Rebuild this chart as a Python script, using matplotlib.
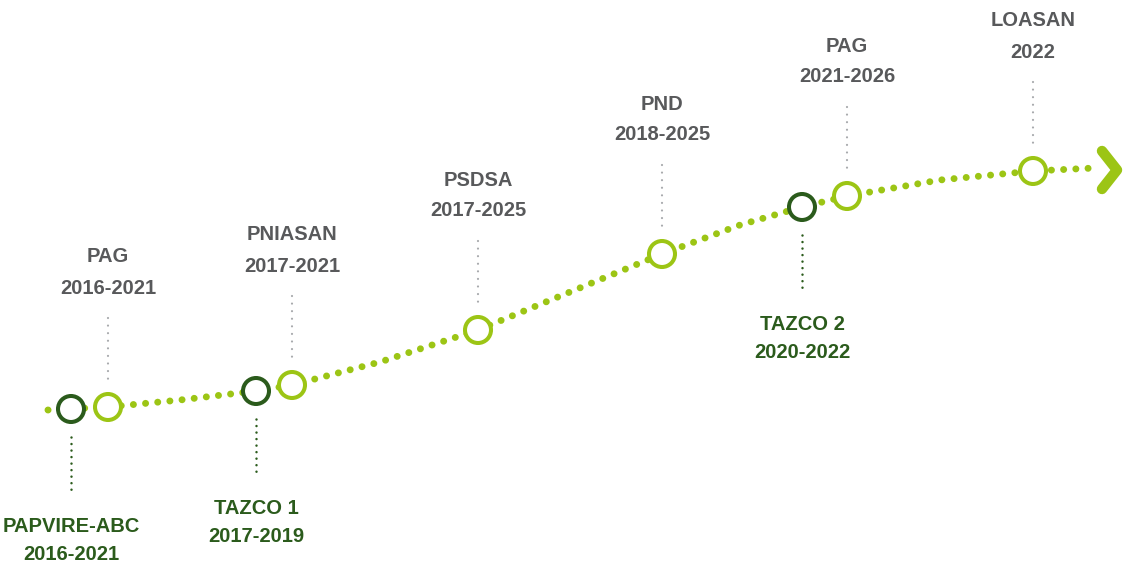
import matplotlib.pyplot as plt
from matplotlib.patches import Circle

# milestones: name, period, x, y (pixel space), kind (top = light/gray label, bottom = dark label)
names = ["PAPVIRE-ABC", "PAG", "TAZCO 1", "PNIASAN", "PSDSA", "PND", "TAZCO 2", "PAG", "LOASAN"]
periods = ["2016-2021", "2016-2021", "2017-2019", "2017-2021", "2017-2025", "2018-2025",
           "2020-2022", "2021-2026", "2022"]
node_x = [71, 108, 256, 292, 478, 662, 802, 847, 1033]
node_y = [409, 407, 391, 385, 330, 254, 207, 196, 171]
kind = ["bottom", "top", "bottom", "top", "top", "top", "bottom", "top", "top"]

# path of the dotted timeline
path_x = [48, 108, 180, 256, 292, 380, 478, 570, 662, 740, 802, 847, 940, 1033, 1095]
path_y = [410, 407, 400, 391, 385, 362, 330, 292, 254, 225, 207, 196, 180, 171, 168]

light = "#9cc515"
dark = "#2b5b1c"
gray = "#58595b"

fig = plt.figure(figsize=(11.23, 5.68), dpi=100)
ax = fig.add_axes([0, 0, 1, 1])
ax.set_xlim(0, 1123)
ax.set_ylim(568, 0)
ax.axis("off")

ax.plot(path_x, path_y, color=light, lw=5, linestyle=(0, (0.01, 1.75)),
        dash_capstyle="round", zorder=1)

# chevron at the end
ax.plot([1102, 1117, 1102], [151, 170, 189], color=light, lw=7.5,
        solid_capstyle="round", solid_joinstyle="round", zorder=2)

font = ["Liberation Sans Narrow", "Liberation Sans", "DejaVu Sans"]
fs = 14.5
for n, p, x, y, k in zip(names, periods, node_x, node_y, kind):
    if k == "top":
        ec = light
        ax.plot([x, x], [y - 89, y - 26], color="#a7a9ac", lw=1.6,
                linestyle=(0, (0.01, 3.4)), dash_capstyle="round", zorder=1)
        ax.text(x, y - 150, n, ha="center", va="center", fontsize=fs,
                fontweight="bold", color=gray, family=font)
        ax.text(x, y - 119, p, ha="center", va="center", fontsize=fs,
                fontweight="bold", color=gray, family=font)
    else:
        ec = dark
        ax.plot([x, x], [y + 28, y + 81], color=dark, lw=1.8,
                linestyle=(0, (0.01, 2.6)), dash_capstyle="round", zorder=1)
        ax.text(x, y + 117, n, ha="center", va="center", fontsize=fs,
                fontweight="bold", color=dark, family=font)
        ax.text(x, y + 146, p, ha="center", va="center", fontsize=fs,
                fontweight="bold", color=dark, family=font)
    ax.add_patch(Circle((x, y), 13, facecolor="white", edgecolor=ec, lw=2.9, zorder=3))

fig.savefig("out.png", dpi=100)
